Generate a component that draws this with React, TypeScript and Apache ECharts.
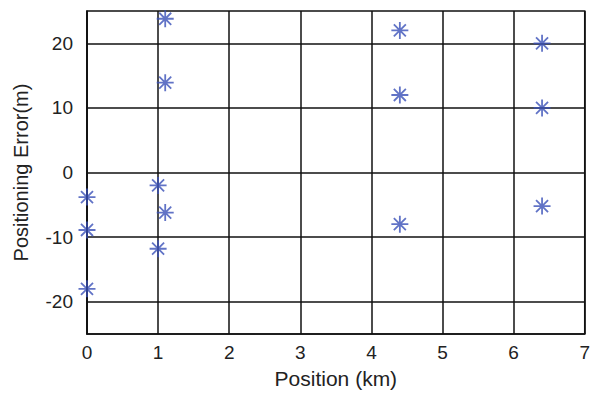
import React, { useEffect, useRef } from "react";
import * as echarts from "echarts";

const positionsKm: number[] = [0, 0, 0, 1, 1, 1.1, 1.1, 1.1, 4.4, 4.4, 4.4, 6.4, 6.4, 6.4];
const errorsM: number[] = [-3.8, -8.9, -18.0, -2.0, -11.8, 23.8, 13.9, -6.2, 22, 12, -8.0, 20, 10, -5.2];
const yGridValues: number[] = [-20, -10, 0, 10, 20];
const xTitle = "Position (km)";
const yTitle = "Positioning Error(m)";

const ASTERISK = "path://M0,-10L0,10M-10,0L10,0M-7.07,-7.07L7.07,7.07M-7.07,7.07L7.07,-7.07";

export default function App() {
  const ref = useRef<HTMLDivElement>(null);
  useEffect(() => {
    if (!ref.current) return;
    const chart = echarts.init(ref.current, null, { renderer: "svg" });
    const data = positionsKm.map((x, i) => [x, errorsM[i]]);
    const font = "'Liberation Sans', Arial, sans-serif";
    const lineColor = "#111";
    chart.setOption({
      animation: false,
      grid: {
        left: 87,
        right: 7,
        top: 11,
        bottom: 54,
        show: true,
        borderColor: lineColor,
        borderWidth: 1.5,
        backgroundColor: "#fff",
      },
      xAxis: {
        type: "value",
        min: 0,
        max: 7,
        interval: 1,
        name: xTitle,
        nameLocation: "middle",
        nameGap: 34,
        nameTextStyle: { fontFamily: font, fontSize: 21, color: "#222" },
        axisLine: { show: true, onZero: false, lineStyle: { color: lineColor, width: 1.5 } },
        axisTick: { show: false },
        axisLabel: { fontFamily: font, fontSize: 19, color: "#222", margin: 9 },
        splitLine: { show: true, lineStyle: { color: lineColor, width: 1.5 } },
      },
      yAxis: {
        type: "value",
        min: -25,
        max: 25,
        interval: 5,
        name: yTitle,
        nameLocation: "middle",
        nameGap: 56,
        nameTextStyle: { fontFamily: font, fontSize: 20, color: "#222" },
        axisLine: { show: true, onZero: false, lineStyle: { color: lineColor, width: 1.5 } },
        axisTick: { show: false },
        axisLabel: {
          fontFamily: font,
          fontSize: 19,
          color: "#222",
          margin: 14,
          showMinLabel: false,
          showMaxLabel: false,
          formatter: (v: number) => (Math.abs(v % 10) < 1e-9 ? String(v) : ""),
        },
        splitLine: { show: false },
      },
      series: [
        {
          type: "scatter",
          data,
          symbol: ASTERISK,
          symbolSize: 17,
          z: 3,
          itemStyle: { color: "transparent", borderColor: "#3a50b8", borderWidth: 1.8 },
          markLine: {
            silent: true,
            symbol: ["none", "none"],
            label: { show: false },
            z: 1,
            lineStyle: { color: lineColor, width: 1.5, type: "solid" },
            data: yGridValues.map((v) => ({ yAxis: v })),
          },
        },
      ],
    });
    return () => chart.dispose();
  }, []);
  return <div ref={ref} style={{ width: 593, height: 394, position: "absolute", left: 0, top: 0, background: "#fff" }} />;
}
